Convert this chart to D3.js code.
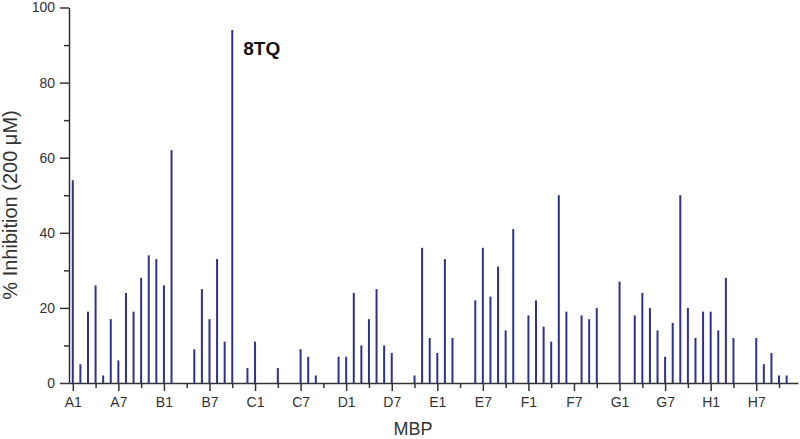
<!DOCTYPE html>
<html>
<head>
<meta charset="utf-8">
<script src="https://cdn.jsdelivr.net/npm/d3@7"></script>
<style>
  body { margin: 0; background: #fff; }
  svg, svg text { font-family: "Liberation Sans", Arial, sans-serif; }
</style>
</head>
<body>
<script>
// plate rows and % inhibition per well (columns 1..12)
var rows = ["A", "B", "C", "D", "E", "F", "G", "H"];
var rowA = [54, 5, 19, 26, 2, 17, 6, 24, 19, 28, 34, 33];
var rowB = [26, 62, 0, 0, 9, 25, 17, 33, 11, 94, 0, 4];
var rowC = [11, 0, 0, 4, 0, 0, 9, 7, 2, 0, 0, 7];
var rowD = [7, 24, 10, 17, 25, 10, 8, 0, 0, 2, 36, 12];
var rowE = [8, 33, 12, 0, 0, 22, 36, 23, 31, 14, 41, 0];
var rowF = [18, 22, 15, 11, 50, 19, 0, 18, 17, 20, 0, 0];
var rowG = [27, 0, 18, 24, 20, 14, 7, 16, 50, 20, 12, 19];
var rowH = [19, 14, 28, 12, 0, 0, 12, 5, 8, 2, 2, 0];
var yTicks = [0, 20, 40, 60, 80, 100];
var highlight = { well: "B10", label: "8TQ" };

var width = 800, height = 439;

// flatten the plate into wells 1..96
var data = [];
[rowA, rowB, rowC, rowD, rowE, rowF, rowG, rowH].forEach(function(vals, r) {
  vals.forEach(function(v, c) {
    data.push({ index: r * 12 + c + 1, name: rows[r] + (c + 1), value: v });
  });
});

var svg = d3.select("body").append("svg")
  .attr("width", width)
  .attr("height", height);

var x = d3.scaleLinear().domain([0.5, 96.5]).range([69, 798]);
var y = d3.scaleLinear().domain([0, 100]).range([383, 7.5]);

// major x ticks every 6 wells (A1, A7, B1 ...), minor ticks in between
var majorX = data.filter(function(d) { return (d.index - 1) % 6 === 0; });
var minorX = data.filter(function(d) { return (d.index - 1) % 6 === 3; });

svg.append("g")
  .attr("transform", "translate(0," + y(0) + ")")
  .call(d3.axisBottom(x).tickValues(minorX.map(function(d) { return d.index; }))
        .tickSize(5).tickSizeOuter(0).tickFormat(""))
  .call(function(g) { g.select(".domain").remove(); })
  .selectAll("line").attr("stroke", "#333").attr("stroke-width", 1.5);

// y minor ticks
svg.append("g")
  .attr("transform", "translate(" + x(0.5) + ",0)")
  .call(d3.axisLeft(y).tickValues([10, 30, 50, 70, 90]).tickSize(5).tickFormat(""))
  .call(function(g) { g.select(".domain").remove(); })
  .selectAll("line").attr("stroke", "#333").attr("stroke-width", 1.5);

// bars drawn as thin lines
svg.append("g")
  .attr("class", "bars")
  .selectAll("line")
  .data(data.filter(function(d) { return d.value > 0; }))
  .enter().append("line")
  .attr("x1", function(d) { return x(d.index); })
  .attr("x2", function(d) { return x(d.index); })
  .attr("y1", y(0))
  .attr("y2", function(d) { return y(d.value); })
  .attr("stroke", "#2f3191")
  .attr("stroke-width", 2);

var xAxis = svg.append("g")
  .attr("transform", "translate(0," + y(0) + ")")
  .call(d3.axisBottom(x)
        .tickValues(majorX.map(function(d) { return d.index; }))
        .tickFormat(function(v) { return data[v - 1].name; })
        .tickSize(8).tickSizeOuter(0).tickPadding(6));
xAxis.attr("font-family", null);
xAxis.select(".domain").attr("stroke", "#333").attr("stroke-width", 1.5);
xAxis.selectAll("line").attr("stroke", "#333").attr("stroke-width", 1.5);
xAxis.selectAll("text").attr("fill", "#333").style("font-size", "14px");

var yAxis = svg.append("g")
  .attr("transform", "translate(" + x(0.5) + ",0)")
  .call(d3.axisLeft(y).tickValues(yTicks).tickSize(9).tickSizeOuter(0).tickPadding(5));
yAxis.attr("font-family", null);
yAxis.select(".domain").attr("stroke", "#333").attr("stroke-width", 1.5);
yAxis.selectAll("line").attr("stroke", "#333").attr("stroke-width", 1.5);
yAxis.selectAll("text").attr("fill", "#333").style("font-size", "14px");

// axis titles
svg.append("text")
  .attr("x", 413)
  .attr("y", 435)
  .attr("text-anchor", "middle")
  .attr("fill", "#333")
  .style("font-size", "18px")
  .text("MBP");

svg.append("text")
  .attr("transform", "translate(17,205) rotate(-90)")
  .attr("text-anchor", "middle")
  .attr("fill", "#333")
  .style("font-size", "20px")
  .text("% Inhibition (200 \u03bcM)");

// label for the top hit
var hit = data.filter(function(d) { return d.name === highlight.well; })[0];
svg.append("text")
  .attr("x", x(hit.index) + 11)
  .attr("y", 55)
  .attr("fill", "#111")
  .style("font-size", "19px")
  .style("font-weight", "bold")
  .text(highlight.label);
</script>
</body>
</html>
